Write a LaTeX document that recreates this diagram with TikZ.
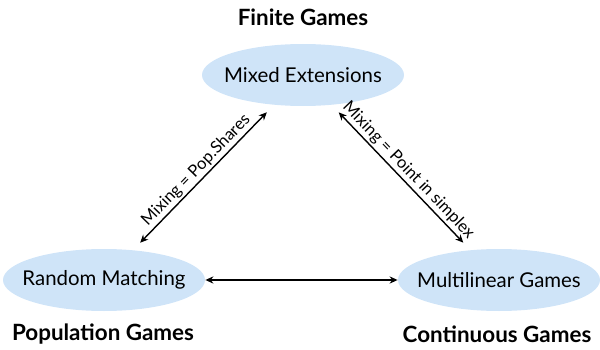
\documentclass[tikz,border=0pt]{standalone}
\usepackage{fontspec}
\setmainfont{Lato}
\usetikzlibrary{shapes.geometric, arrows.meta, positioning}
\definecolor{gamefill}{RGB}{207,228,248}
\tikzset{
	game/.style={ellipse, fill=gamefill, minimum width=101pt, minimum height=31pt, inner sep=0pt},
	gametitle/.style={font=\fontsize{11.2}{13}\selectfont\bfseries},
	arrow/.style={{Stealth[length=4pt,width=3.6pt]}-{Stealth[length=4pt,width=3.6pt]}, line width=0.7pt},
	diagarrow/.style={arrow, shorten <=5pt, shorten >=5pt},
	mixlabel/.style={sloped, above, inner sep=1pt, font=\fontsize{8.3}{9}\selectfont},
}

\begin{document}
\begin{tikzpicture}[x=0.5pt, y=0.5pt, every node/.style={font=\fontsize{10.2}{12}\selectfont}]
	\useasboundingbox (0,0) rectangle (600,349);
	\node[game, label=center:{Mixed Extensions}](me) at (303,274){};
	\node[game, label=center:{Random Matching}](rm) at (104,69){};
	\node[game, label=center:{Multilinear Games}](ml) at (499,69){};
	\node[gametitle](fg) at (303,332){Finite Games};
	\node[gametitle](pg) at (103,15){Population Games};
	\node[gametitle](cg) at (497,15){Continuous Games};
	\draw[diagarrow](rm)--node[mixlabel]{Mixing = Pop.Shares}(me);
	\draw[diagarrow](me)--node[mixlabel]{Mixing = Point in simplex}(ml);
	\draw[arrow](rm)--(ml);
\end{tikzpicture}
\end{document}
